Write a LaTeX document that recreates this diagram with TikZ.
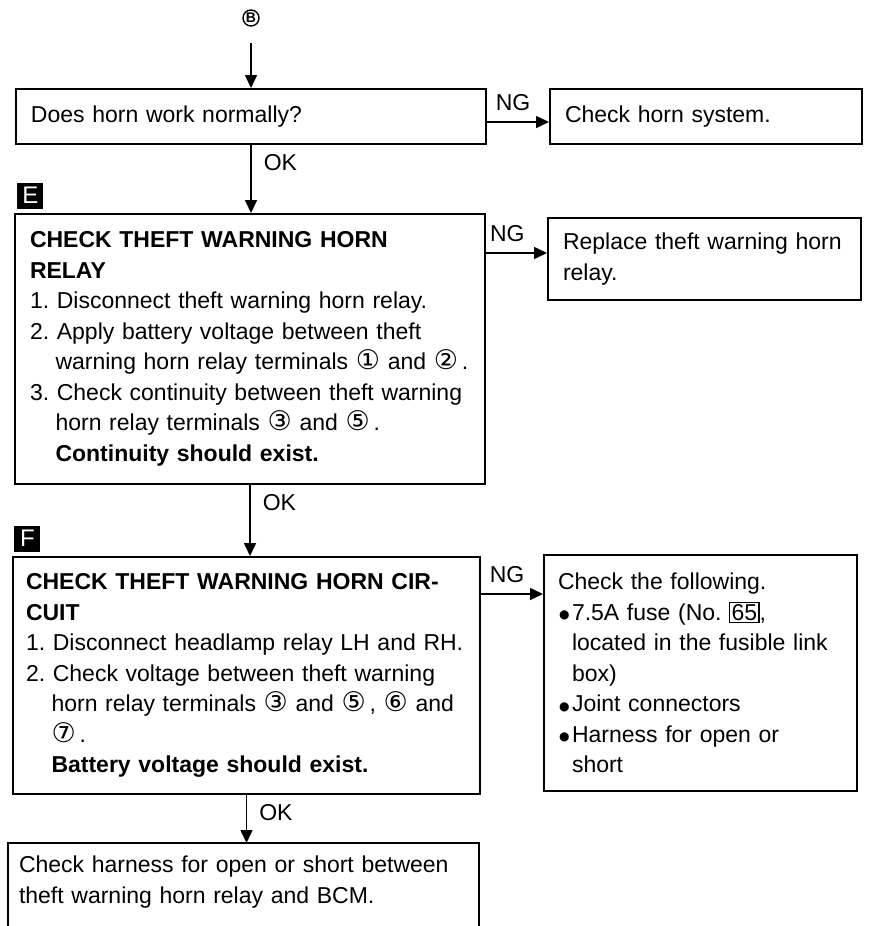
\documentclass[tikz,border=0pt]{standalone}
\usepackage{fontspec}
\setmainfont{Liberation Sans}
\newfontfamily\symfont{DejaVu Sans}
\usetikzlibrary{arrows.meta, calc}

\frenchspacing
\newcommand\boxfont{\fontsize{11.5}{15.25}\selectfont}
\newcommand\cn[1]{{\symfont\fontsize{13.5}{15.25}\selectfont #1}}
\newcommand\hang{\hspace*{1.11em}}
\newcommand\itm{\makebox[7pt][l]{\hspace{0.5pt}\raisebox{0.8pt}{\symfont\fontsize{6}{6}\selectfont ●}}}
\setlength\fboxsep{0.6pt}
\setlength\fboxrule{0.6pt}

\tikzset{
  stepbox/.style={draw, line width=1pt, anchor=north west, align=left,
    inner xsep=7.5pt, inner ysep=6pt, font=\boxfont},
  tag/.style={fill=black, text=white, anchor=south west, minimum size=13pt,
    inner sep=0pt, font=\fontsize{12}{12}\selectfont},
  flow/.style={->, line width=0.8pt},
  ok/.style={font=\boxfont, anchor=north west, inner xsep=6pt, inner ysep=4.5pt},
  ng/.style={font=\boxfont, above, inner sep=5pt},
}

\begin{document}
\begin{tikzpicture}[x=0.5pt, y=-0.5pt, >={Triangle[length=6.5pt, width=6pt]}]
\useasboundingbox (0,0) rectangle (869,926);

% entry point
\node[circle, draw, line width=0.7pt, minimum size=8pt, inner sep=0pt,
  font=\fontsize{7}{7}\selectfont\bfseries] (entry) at (251,18) {B};

% left column
\node[stepbox, text width=220pt, minimum height=27.5pt] (horn) at (15,88)
  {Does horn work normally?};
\node[stepbox, text width=220pt, minimum height=135pt] (chkrelay) at (14,213)
  {\textbf{CHECK THEFT WARNING HORN}\\
   \textbf{RELAY}\\
   1. Disconnect theft warning horn relay.\\
   2. Apply battery voltage between theft\\
   \hang warning horn relay terminals \cn{①} and \cn{②}\,.\\
   3. Check continuity between theft warning\\
   \hang horn relay terminals \cn{③} and \cn{⑤}\,.\\
   \hang\textbf{Continuity should exist.}};
\node[stepbox, inner xsep=6.5pt, text width=220.5pt, minimum height=118.5pt] (chkcirc) at (12,556)
  {\textbf{CHECK THEFT WARNING HORN CIR-}\\
   \textbf{CUIT}\\
   1. Disconnect headlamp relay LH and RH.\\
   2. Check voltage between theft warning\\
   \hang horn relay terminals \cn{③} and \cn{⑤}\,, \cn{⑥} and\\
   \hang\cn{⑦}\,.\\
   \hang\textbf{Battery voltage should exist.}};
\node[stepbox, draw=none, inner xsep=5pt, text width=224.5pt] (harness) at (8,843)
  {Check harness for open or short between\\
   theft warning horn relay and BCM.};
\coordinate (bottom) at (0,926);
\draw[line width=1pt] (harness.north west |- bottom) -- (harness.north west)
  -- (harness.north east) -- (harness.north east |- bottom);

% right column
\node[stepbox, text width=141pt, minimum height=27.5pt] (hornsys) at (549,88)
  {Check horn system.};
\node[stepbox, text width=141.5pt, minimum height=41pt] (replace) at (547,217)
  {Replace theft warning horn\\
   relay.};
\node[stepbox, inner xsep=7pt, text width=142.5pt, minimum height=118pt] (follow) at (543,554)
  {Check the following.\\
   \itm 7.5A fuse (No. \fbox{65},\\
   \hspace*{7pt}located in the fusible link\\
   \hspace*{7pt}box)\\
   \itm Joint connectors\\
   \itm Harness for open or\\
   \hspace*{7pt}short};

% step tags
\node[tag] (tagE) at ([shift={(3,-4)}]chkrelay.north west) {E};
\node[tag] (tagF) at ([shift={(2,-4)}]chkcirc.north west) {F};

% OK path
\draw[flow, shorten <=8pt] (entry.south) -- (entry.south |- horn.north);
\draw[flow] (horn.south) -- node[ok, at start] {OK} (horn.south |- chkrelay.north);
\draw[flow] (chkrelay.south) -- node[ok, at start] {OK} (chkrelay.south |- chkcirc.north);
\draw[flow] (chkcirc.south) -- node[ok, at start] {OK} (chkcirc.south |- harness.north);

% NG branches
\coordinate (ng1) at ([yshift=-17pt]horn.north east);
\coordinate (ng2) at ([yshift=-20pt]chkrelay.north east);
\coordinate (ng3) at ([yshift=-19pt]chkcirc.north east);
\draw[flow] (ng1) -- node[ng, pos=0.42] {NG} (ng1 -| hornsys.west);
\draw[flow] (ng2) -- node[ng, pos=0.35] {NG} (ng2 -| replace.west);
\draw[flow] (ng3) -- node[ng, pos=0.42] {NG} (ng3 -| follow.west);

\end{tikzpicture}
\end{document}
